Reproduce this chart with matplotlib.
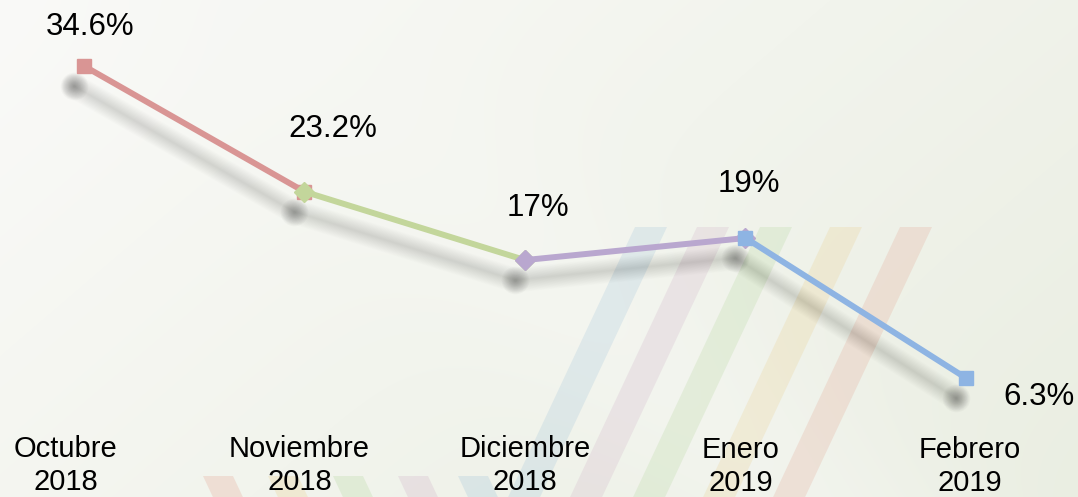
import numpy as np
import matplotlib
matplotlib.use("Agg")
import matplotlib.pyplot as plt
import matplotlib.transforms as mtransforms
from matplotlib.patches import Polygon

plt.rcParams['font.family'] = ['Liberation Sans', 'DejaVu Sans']

# ---- data ----
months = ["Octubre", "Noviembre", "Diciembre", "Enero", "Febrero"]
years = ["2018", "2018", "2018", "2019", "2019"]
values = [34.6, 23.2, 17.0, 19.0, 6.3]
value_labels = ["34.6%", "23.2%", "17%", "19%", "6.3%"]

# ---- styles / layout ----
seg_colors = ["#d99594", "#c3d69b", "#b9a7cf", "#8eb4e3"]
seg_markers = ["s", "D", "D", "s"]
label_offsets = [(6, 39), (28, 63), (13, 52), (3, 54), (73, -19)]  # pixels
cat_dx = [-18, -5, 0, -5, 4]   # pixels
cat_base = [457, 457, 457, 458, 458]  # pixel rows from top (first line baseline)

W, H = 1078, 497
fig = plt.figure(figsize=(W / 100, H / 100), dpi=100)

# ---- background ----
bg = fig.add_axes([0, 0, 1, 1])
bg.set_xlim(0, W)
bg.set_ylim(H, 0)
bg.axis('off')
yy, xx = np.mgrid[0:H, 0:W]
u = xx / W
v = yy / H
c0 = np.array([250, 250, 248]) / 255.0
c1 = np.array([234, 238, 226]) / 255.0
t = np.clip(0.65 * u + 0.35 * v, 0, 1)[..., None]
img = c0 * (1 - t) + c1 * t
band = np.exp(-((u * W - v * H * 1.1 - 250) / 160.0) ** 2)[..., None]
img = img * (1 - 0.5 * band) + np.array([0.965, 0.97, 0.955]) * 0.5 * band
bg.imshow(img, extent=[0, W, H, 0], aspect='auto', zorder=0)

stripe_cols = ["#8fb9d6", "#c9a3c0", "#a8d08c", "#e9c77a", "#e0947f"]
top_x = [635, 697, 760, 830, 900]
for c, x0 in zip(stripe_cols, top_x):
    y0, y1 = 227, 520
    sh = -0.47 * (y1 - y0)
    bg.add_patch(Polygon([(x0, y0), (x0 + 32, y0), (x0 + 32 + sh, y1), (x0 + sh, y1)],
                         closed=True, facecolor=c, edgecolor='none', alpha=0.2, zorder=1))
bot_cols = ["#e0947f", "#e9c77a", "#a8d08c", "#c9a3c0", "#8fb9d6"]
bot_x = [203, 268, 333, 398, 458]
for c, x0 in zip(bot_cols, bot_x):
    y0, y1 = 476, 500
    sh = 0.47 * (y1 - y0)
    bg.add_patch(Polygon([(x0, y0), (x0 + 30, y0), (x0 + 30 + sh, y1), (x0 + sh, y1)],
                         closed=True, facecolor=c, edgecolor='none', alpha=0.22, zorder=1))

# ---- main chart ----
ax = fig.add_axes([0, 0, 1, 1])
ax.patch.set_alpha(0)
ax.axis('off')
x = np.arange(len(values))
ax.set_xlim(-84 / 220.5, (W - 84) / 220.5)
ax.set_ylim((447.5 - H) / 11.025, 447.5 / 11.025)

# soft shadow (blurred, offset down-left)
shadow_tr = mtransforms.offset_copy(ax.transData, fig=fig, x=-10, y=-20, units='dots')
for lw in np.linspace(1, 18, 18):
    ax.plot(x, values, color='#303030', lw=lw, alpha=0.0095, transform=shadow_tr,
            solid_capstyle='round', solid_joinstyle='round', zorder=2)
for ms in np.linspace(2, 20, 16):
    ax.plot(x, values, ls='none', marker='o', ms=ms, color='#303030', mec='none',
            alpha=0.022, transform=shadow_tr, zorder=2)

# coloured segments
for i in range(len(values) - 1):
    ax.plot(x[i:i + 2], values[i:i + 2], color=seg_colors[i], lw=4.3,
            marker=seg_markers[i], ms=10 if seg_markers[i] == 's' else 10.5,
            mec=seg_colors[i], mfc=seg_colors[i], zorder=3 + i,
            solid_capstyle='butt')

# value labels
for xi, yi, lab, off in zip(x, values, value_labels, label_offsets):
    ax.annotate(lab, (xi, yi), xytext=off, textcoords='offset pixels',
                ha='center', va='center', fontsize=22.5, color='black', zorder=10)

# category labels
for xi, m, yr, dx, yb in zip(x, months, years, cat_dx, cat_base):
    px = ax.transData.transform((xi, 0))[0] + dx
    fx = px / W
    fig.text(fx, 1 - yb / H, m, ha='center', va='baseline', fontsize=21, color='black')
    fig.text(fx, 1 - (yb + 33) / H, yr, ha='center', va='baseline', fontsize=21, color='black')

fig.savefig("out.png", dpi=100)
